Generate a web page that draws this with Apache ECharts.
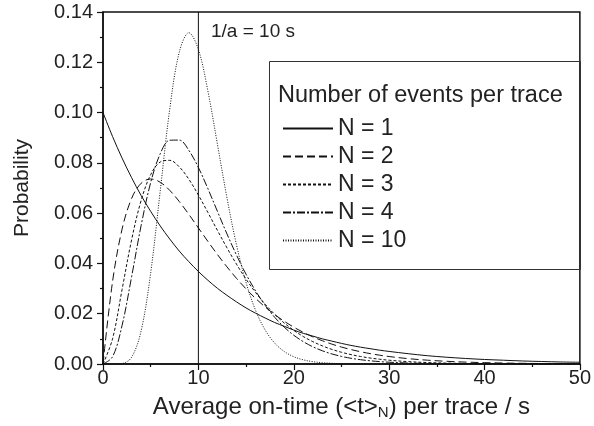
<!DOCTYPE html>
<html>
<head>
<meta charset="utf-8">
<script src="https://cdn.jsdelivr.net/npm/echarts@6/dist/echarts.min.js"></script>
<style>html,body{margin:0;padding:0;background:#fff;}#chart{width:594px;height:426px;}</style>
</head>
<body>
<div id="chart"></div>
<script>
// Average on-time values (s)
const xValues = [0,1,2,3,4,5,6,7,8,9,10,11,12,13,14,15,16,17,18,19,20,21,22,23,24,25,26,27,28,29,30,32,34,36,38,40,42,44,46,48,50];
const seriesNames = ['N = 1','N = 2','N = 3','N = 4','N = 10'];
const n1 = [0.1000,0.0905,0.0819,0.0741,0.0670,0.0607,0.0549,0.0497,0.0449,0.0407,0.0368,0.0333,0.0301,0.0273,0.0247,0.0223,0.0202,0.0183,0.0165,0.0150,0.0135,0.0122,0.0111,0.0100,0.0091,0.0082,0.0074,0.0067,0.0061,0.0055,0.0050,0.0041,0.0033,0.0027,0.0022,0.0018,0.0015,0.0012,0.0010,0.0008,0.0007];
const n2 = [0,0.03275,0.05363,0.06586,0.07189,0.07358,0.07229,0.06905,0.06461,0.05951,0.05413,0.04875,0.04354,0.03862,0.03405,0.02987,0.02609,0.02269,0.01967,0.01700,0.01465,0.01260,0.01080,0.00925,0.00790,0.00674,0.00574,0.00488,0.00414,0.00351,0.00297,0.00213,0.00152,0.00108,0.00076,0.00054,0.00038,0.00027,0.00019,0.00013,0.00009];
const n3 = [0,0.01000,0.02964,0.04940,0.06506,0.07531,0.08034,0.08100,0.07838,0.07349,0.06721,0.06025,0.05312,0.04618,0.03968,0.03374,0.02844,0.02379,0.01976,0.01631,0.01339,0.01093,0.00889,0.00720,0.00581,0.00467,0.00374,0.00299,0.00238,0.00190,0.00150,0.00094,0.00058,0.00036,0.00022,0.00013,0.00008,0.00005,0.00003,0.00002,0.00001];
const n4 = [0,0.00286,0.01534,0.03470,0.05513,0.07218,0.08361,0.08899,0.08905,0.08499,0.07815,0.06972,0.06068,0.05172,0.04330,0.03570,0.02905,0.02335,0.01859,0.01465,0.01145,0.00889,0.00685,0.00525,0.00399,0.00303,0.00228,0.00171,0.00128,0.00095,0.00071,0.00039,0.00021,0.00011,0.00006,0.00003,0.00002,0.00001,0,0,0];
const n10 = [0,0.000001,0.000191,0.002701,0.013231,0.036266,0.068838,0.101405,0.124077,0.131756,0.125110,0.108526,0.087365,0.066054,0.047345,0.032407,0.021311,0.013529,0.008325,0.004982,0.002908,0.001660,0.000928,0.000509,0.000275,0.000146,0.000076,0.000040,0.000020,0.000010,0.000005,0,0,0,0,0,0,0,0,0,0];
const allSeries = [n1, n2, n3, n4, n10];
const dashTypes = ['solid', [8,4], [3,2], [8,2,2,2], [1,1.5]];
const refLineX = 10;
const yRange = [0, 0.14];

const font = 'Liberation Sans, Arial, sans-serif';
const chart = echarts.init(document.getElementById('chart'), null, {renderer: 'canvas'});

const curveSeries = seriesNames.map((name, i) => ({
  name: name,
  type: 'line',
  data: xValues.map((x, j) => [x, allSeries[i][j]]),
  showSymbol: false,
  symbol: 'none',
  smooth: 0.35,
  silent: true,
  lineStyle: {color: '#111', width: 1, type: dashTypes[i]},
  itemStyle: {color: '#111'},
  z: 3
}));

const option = {
  backgroundColor: '#fff',
  animation: false,
  textStyle: {fontFamily: font},
  grid: {left: 103, right: 10, top: 12, bottom: 62, show: true, borderColor: '#111', borderWidth: 1.5, containLabel: false},
  xAxis: {
    type: 'value', min: 0, max: 50, interval: 10,
    name: 'Average on-time (<t>{sub|N}) per trace / s',
    nameLocation: 'middle', nameGap: 31,
    nameTextStyle: {fontSize: 24, color: '#222', fontFamily: font,
      rich: {sub: {fontSize: 15, color: '#222', fontFamily: font, padding: [10, 0, 0, 0]}}},
    axisLine: {show: true, onZero: false, lineStyle: {color: '#111', width: 1.5}},
    axisTick: {show: true, length: 6, inside: false, lineStyle: {color: '#111', width: 1.2}},
    minorTick: {show: true, splitNumber: 2, length: 3, lineStyle: {color: '#111', width: 1.2}},
    axisLabel: {fontSize: 20, color: '#222', margin: 4, fontFamily: font},
    splitLine: {show: false}
  },
  yAxis: {
    type: 'value', min: yRange[0], max: yRange[1], interval: 0.02,
    name: 'Probability', nameLocation: 'middle', nameGap: 70,
    nameTextStyle: {fontSize: 21, color: '#222', fontFamily: font},
    axisLine: {show: true, onZero: false, lineStyle: {color: '#111', width: 1.5}},
    axisTick: {show: true, length: 6, inside: false, lineStyle: {color: '#111', width: 1.2}},
    minorTick: {show: true, splitNumber: 2, length: 3, lineStyle: {color: '#111', width: 1.2}},
    axisLabel: {fontSize: 20, color: '#222', margin: 10, fontFamily: font, formatter: v => v.toFixed(2)},
    splitLine: {show: false}
  },
  legend: {
    data: seriesNames,
    orient: 'vertical', left: 277, top: 112,
    itemWidth: 50, itemHeight: 16, itemGap: 5,
    textStyle: {fontSize: 23, color: '#222', fontFamily: font},
    itemStyle: {opacity: 0, color: 'transparent', borderWidth: 0},
    selectedMode: false
  },
  graphic: [
    {type: 'rect', left: 267, top: 59, shape: {width: 311, height: 208}, style: {fill: 'none', stroke: '#333', lineWidth: 1}, z: 1},
    {type: 'text', left: 278, top: 84, style: {text: 'Number of events per trace', fontSize: 23.5, fill: '#222', fontFamily: font}, z: 5},
    {type: 'text', left: 211, top: 22, style: {text: '1/a = 10 s', fontSize: 19, fill: '#222', fontFamily: font}, z: 5}
  ],
  series: curveSeries.concat([{
    name: 'ref',
    type: 'line',
    data: [[refLineX, yRange[0]], [refLineX, yRange[1]]],
    symbol: 'none',
    silent: true,
    lineStyle: {color: '#111', width: 1},
    z: 2
  }])
};
chart.setOption(option);
</script>
</body>
</html>
